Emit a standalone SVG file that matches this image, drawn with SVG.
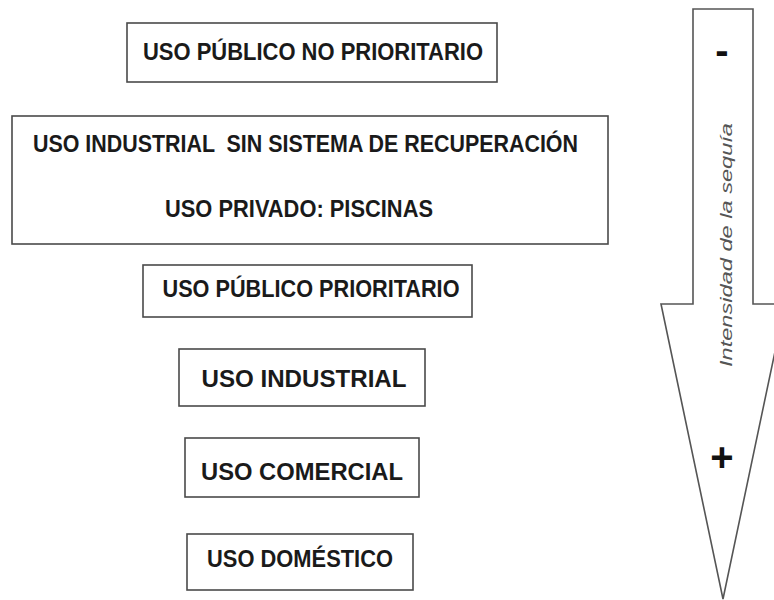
<svg xmlns="http://www.w3.org/2000/svg" width="774" height="600" viewBox="0 0 774 600">
<style>
.box{fill:#fff;stroke:#4a4a4a;stroke-width:1.6}
.lbl{font-family:"Liberation Sans",Arial,sans-serif;font-weight:bold;font-size:23px;fill:#1a1a1a;text-anchor:middle}
.sign{font-family:"Liberation Sans",Arial,sans-serif;font-weight:bold;fill:#111;text-anchor:middle}
.axis{font-family:"Liberation Sans",Arial,sans-serif;font-style:italic;font-size:17px;fill:#555;text-anchor:middle}
</style>
<rect width="774" height="600" fill="#fff"/>
<g id="n1"><rect class="box" x="127" y="23" width="370" height="59"/><text class="lbl" x="313" y="60" textLength="340" lengthAdjust="spacingAndGlyphs">USO PÚBLICO NO PRIORITARIO</text></g>
<g id="n2"><rect class="box" x="12" y="116" width="596" height="128"/><text class="lbl" x="305.5" y="152" textLength="545" lengthAdjust="spacingAndGlyphs" xml:space="preserve">USO INDUSTRIAL  SIN SISTEMA DE RECUPERACIÓN</text><text class="lbl" x="299" y="217" textLength="268" lengthAdjust="spacingAndGlyphs">USO PRIVADO: PISCINAS</text></g>
<g id="n3"><rect class="box" x="143" y="265" width="329" height="52"/><text class="lbl" x="311" y="297" textLength="297" lengthAdjust="spacingAndGlyphs">USO PÚBLICO PRIORITARIO</text></g>
<g id="n4"><rect class="box" x="179" y="349" width="246" height="57"/><text class="lbl" x="304" y="387" textLength="205" lengthAdjust="spacingAndGlyphs">USO INDUSTRIAL</text></g>
<g id="n5"><rect class="box" x="185" y="438" width="234" height="59"/><text class="lbl" x="302" y="480" textLength="202" lengthAdjust="spacingAndGlyphs">USO COMERCIAL</text></g>
<g id="n6"><rect class="box" x="187" y="534" width="226" height="56"/><text class="lbl" x="300" y="567" textLength="186" lengthAdjust="spacingAndGlyphs">USO DOMÉSTICO</text></g>
<g id="arrow">
<polygon points="693,9 753,9 753,304 785,304 723,599 661,304 693,304" fill="#fff" stroke="#555" stroke-width="1.6" stroke-linejoin="miter"/>
<text class="sign" x="722" y="64" font-size="40">-</text>
<text class="sign" x="722" y="471" font-size="40">+</text>
<text class="axis" transform="translate(732,245) rotate(-90)" x="0" y="0" textLength="244" lengthAdjust="spacingAndGlyphs">Intensidad de la sequía</text>
</g>
<g id="connectors"/>
</svg>
